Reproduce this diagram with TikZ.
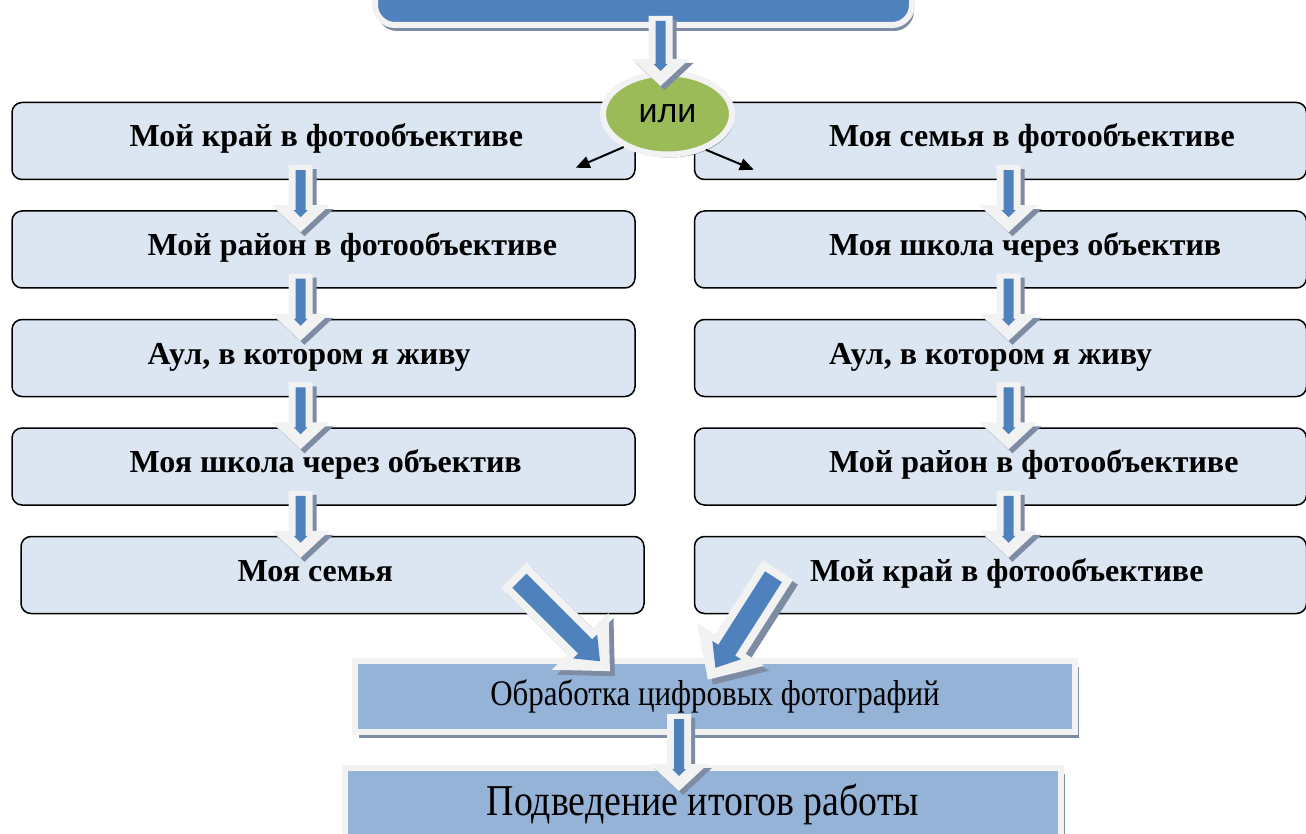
\documentclass[tikz,border=0pt]{standalone}
\usepackage{fontspec}
\setmainfont{Liberation Serif}
\newfontfamily\ilifont{Liberation Sans}
\newfontfamily\condfont[FakeStretch=0.86]{Liberation Serif}
\usetikzlibrary{calc,positioning,shapes.geometric,arrows.meta,shadows}

\definecolor{arrblue}{HTML}{4F81BD}
\definecolor{boxfill}{HTML}{DCE6F2}
\definecolor{stepfill}{HTML}{95B3D7}
\definecolor{rimwhite}{HTML}{F2F2F2}
\definecolor{iligreen}{HTML}{9BBB59}
\definecolor{shadowc}{HTML}{7D8CA3}

% small block arrow: tail, angle, length
\newcommand{\smallarr}[3]{%
\begin{scope}[shift={#1},shift={(4,4)},rotate=#2]
\fill[shadowc] (0,-12) -- ({#3-27},-12) -- ({#3-27},-29) -- (#3,0) -- ({#3-27},29) -- ({#3-27},12) -- (0,12) -- cycle;
\end{scope}
\begin{scope}[shift={#1},rotate=#2]
\fill[rimwhite] (0,-12) -- ({#3-27},-12) -- ({#3-27},-29) -- (#3,0) -- ({#3-27},29) -- ({#3-27},12) -- (0,12) -- cycle;
\fill[arrblue] (5,-5) -- ({#3-22},-5) -- ({#3-22},-7) -- ({#3-15},0) -- ({#3-22},7) -- ({#3-22},5) -- (5,5) -- cycle;
\end{scope}}

% big block arrow: tail, angle, length
\newcommand{\bigarr}[3]{%
\begin{scope}[shift={#1},shift={(5,5)},rotate=#2]
\fill[shadowc] (0,-18) -- ({#3-42},-18) -- ({#3-42},-40) -- (#3,0) -- ({#3-42},40) -- ({#3-42},18) -- (0,18) -- cycle;
\end{scope}
\begin{scope}[shift={#1},rotate=#2]
\fill[rimwhite] (0,-18) -- ({#3-42},-18) -- ({#3-42},-40) -- (#3,0) -- ({#3-42},40) -- ({#3-42},18) -- (0,18) -- cycle;
\fill[arrblue] (8,-10) -- ({#3-35},-10) -- ({#3-35},-17) -- ({#3-14},0) -- ({#3-35},17) -- ({#3-35},10) -- (8,10) -- cycle;
\end{scope}}

\begin{document}
\begin{tikzpicture}[
x=0.5pt, y=-0.5pt,
ThemeBox/.style={rectangle, rounded corners=5pt, draw=black, line width=0.75pt, fill=boxfill, minimum height=38.5pt},
LeftBox/.style={ThemeBox, minimum width=311.5pt},
RightBox/.style={ThemeBox, minimum width=306pt},
BoxText/.style={anchor=base west, inner sep=0, font=\bfseries\fontsize{16}{19}\selectfont},
TopBox/.style={rectangle, rounded corners=10pt, fill=arrblue, draw=rimwhite, line width=3pt, minimum width=268.5pt, minimum height=44pt,
  drop shadow={shadow xshift=1pt, shadow yshift=-3pt, fill=shadowc, opacity=1}},
StepBox/.style={rectangle, fill=stepfill, draw=rimwhite, line width=3pt, inner sep=0,
  drop shadow={shadow xshift=2pt, shadow yshift=-3pt, fill=shadowc, opacity=1}},
IliNode/.style={ellipse, fill=iligreen, draw=rimwhite, line width=3pt, minimum width=64.5pt, minimum height=40.5pt, inner sep=0,
  font=\ilifont\fontsize{17}{20}\selectfont,
  drop shadow={shadow xshift=1pt, shadow yshift=-1.5pt, fill=shadowc, opacity=1}},
ThinArrow/.style={draw=black, line width=1pt, -{Triangle[length=7pt, width=6pt]}}
]

\useasboundingbox (0,0) rectangle (1306,834);
\clip (0,0) rectangle (1306,834);

% top block (cut at the upper edge)
\node[TopBox] (top) at (643.5,-19) {};

% left column
\node[LeftBox] (l1) at (323.5,141) {};
\node[LeftBox, below=15pt of l1] (l2) {};
\node[LeftBox, below=15pt of l2] (l3) {};
\node[LeftBox, below=15pt of l3] (l4) {};
\node[LeftBox, below=15pt of l4, xshift=4.5pt] (l5) {};

% right column
\node[RightBox, right=29pt of l1] (r1) {};
\node[RightBox, below=15pt of r1] (r2) {};
\node[RightBox, below=15pt of r2] (r3) {};
\node[RightBox, below=15pt of r3] (r4) {};
\node[RightBox, below=15pt of r4] (r5) {};

\node[BoxText] (tl1) at ($(l1.west)+(118,6)$) {Мой край в фотообъективе};
\node[BoxText] (tl2) at ($(l2.west)+(136,6)$) {Мой район в фотообъективе};
\node[BoxText] (tl3) at ($(l3.west)+(136,6)$) {Аул, в котором я живу};
\node[BoxText] (tl4) at ($(l4.west)+(118,6)$) {Моя школа через объектив};
\node[BoxText] (tl5) at ($(l5.west)+(217,6)$) {Моя семья};

\node[BoxText] (tr1) at ($(r1.west)+(135,6)$) {Моя семья в фотообъективе};
\node[BoxText] (tr2) at ($(r2.west)+(135,6)$) {Моя школа через объектив};
\node[BoxText] (tr3) at ($(r3.west)+(135,6)$) {Аул, в котором я живу};
\node[BoxText] (tr4) at ($(r4.west)+(135,6)$) {Мой район в фотообъективе};
\node[BoxText] (tr5) at ($(r5.west)+(116,6)$) {Мой край в фотообъективе};

% bottom steps
\node[StepBox, minimum width=360pt, minimum height=35.5pt, font=\condfont\fontsize{18}{21}\selectfont] (proc) at (715,696.5) {Обработка цифровых фотографий};
\node[StepBox, minimum width=358pt, minimum height=36pt, font=\condfont\fontsize{22}{26}\selectfont] (summ) at (703,804) {Подведение итогов работы};

% or
\node[IliNode] (ili) at (667.5,114) {или};
\coordinate (ilL) at ($(l1.north east)+(-60,66)$);
\coordinate (ilR) at ($(r1.north west)+(60,68)$);
\draw[ThinArrow] (ili.-143) -- (ilL);
\draw[ThinArrow] (ili.-43) -- (ilR);

% block arrows
\smallarr{($(top.south)+(17,-12)$)}{-90}{70}
\foreach \i/\j in {1/2,2/3,3/4,4/5}{
  \smallarr{($(l\i.south)+(-23,-15)$)}{-90}{67}
  \smallarr{($(r\i.south)+(8,-15)$)}{-90}{67}
}
\bigarr{($(l5.east)+(-131,0)$)}{-45}{136}
\bigarr{($(r5.west)+(84,-5)$)}{-122.5}{130}
\smallarr{($(proc.south)+(-36,-21)$)}{-90}{77}

\end{tikzpicture}
\end{document}
